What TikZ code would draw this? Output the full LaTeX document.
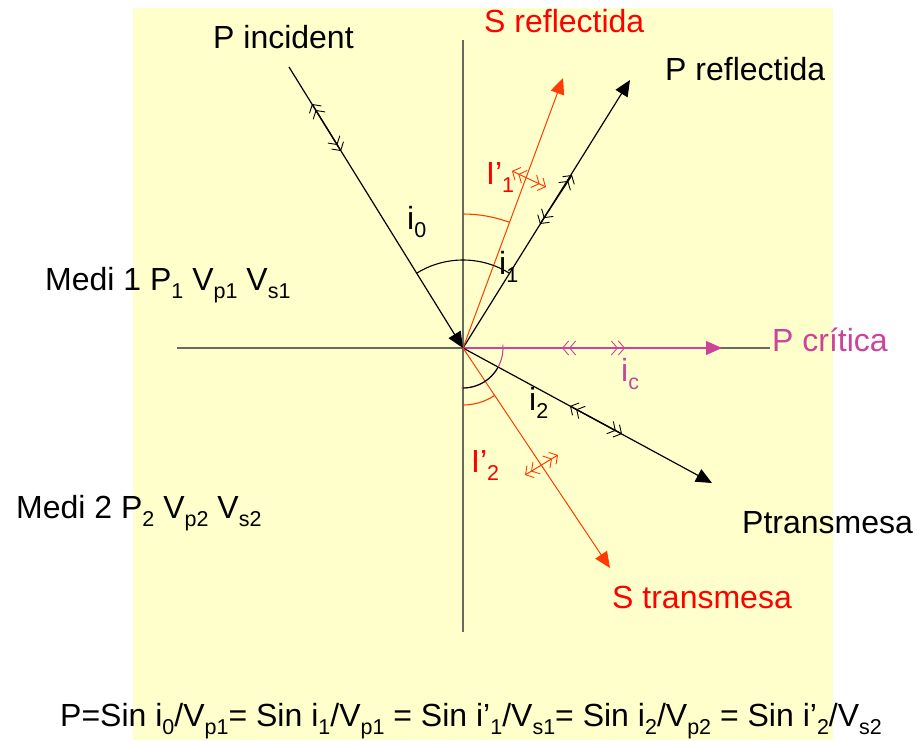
\documentclass[tikz,border=0pt]{standalone}
\usepackage{fontspec}
\setmainfont{Liberation Sans}
\usetikzlibrary{arrows.meta}
\definecolor{bgy}{RGB}{255,255,204}
\definecolor{axc}{RGB}{105,105,95}
\definecolor{orng}{RGB}{255,60,0}
\definecolor{mag}{RGB}{204,68,153}
\definecolor{lbred}{RGB}{255,0,0}
\newcommand\sbs[1]{\raisebox{-0.26em}{\fontsize{21.5}{24}\selectfont #1}}
\tikzset{
  lab/.style={font=\fontsize{32}{36}\selectfont, inner sep=0pt, anchor=base west},
  axis/.style={draw=axc, line width=1.8pt},
  ray/.style={line width=1.2pt, -{Triangle[length=16pt,width=14pt]}},
  ang/.style={line width=1.1pt},
  tickmk/.style={line width=1.3pt, >={Straight Barb[length=6pt,width=14pt,line width=0.9pt]}, <<->>},
}
\begin{document}
\begin{tikzpicture}[x=1pt,y=-1pt]
\useasboundingbox (0,0) rectangle (918,740);
\fill[bgy] (133,8) rectangle (833,740);

% axes
\coordinate (O) at (463,348);
\coordinate (Vt) at (463,40);
\coordinate (Vb) at (463,632);
\coordinate (Hl) at (177,348);
\coordinate (Hr) at (770,348);
\draw[axis] (Vt) -- (Vb);
\draw[axis] (Hl) -- (Hr);

% ray end points
\coordinate (Pi) at (289,67);
\coordinate (Pr) at (630,80);
\coordinate (Sr) at (563,78);
\coordinate (Pc) at (722,348);
\coordinate (Pt) at (712,483);
\coordinate (St) at (610,568);

% rays
\draw[ray, black] (Pi) -- (O);
\draw[ray, black] (O) -- (Pr);
\draw[ray, orng, line width=1pt] (O) -- (Sr);
\draw[ray, mag] (O) -- (Pc);
\draw[ray, black] (O) -- (Pt);
\draw[ray, orng, line width=1pt] (O) -- (St);

% angle arcs
\draw[ang, black] (O) ++(-121.8:88) arc[start angle=-121.8, end angle=-90, radius=88];
\draw[ang, black] (O) ++(-90:88) arc[start angle=-90, end angle=-58.1, radius=88];
\draw[ang, orng] (O) ++(-90:134) arc[start angle=-90, end angle=-69.7, radius=134];
\draw[ang, mag] (O) ++(-5:40) arc[start angle=-5, end angle=92, radius=40];
\draw[ang, black] (O) ++(90:40) arc[start angle=90, end angle=28.5, radius=40];
\draw[ang, orng] (O) ++(90:57) arc[start angle=90, end angle=56.3, radius=57];

% double-chevron marks
\coordinate (m1a) at (312,104); \coordinate (m1b) at (341,151);
\coordinate (m2a) at (540,224); \coordinate (m2b) at (572,175);
\coordinate (m3a) at (562,348); \coordinate (m3b) at (625,348);
\coordinate (m4a) at (570,406); \coordinate (m4b) at (622,434);
\coordinate (m5a) at (512,171); \coordinate (m5b) at (546,187);
\coordinate (m6a) at (525,475); \coordinate (m6b) at (558,455);
\draw[tickmk, black] (m1a) -- (m1b);
\draw[tickmk, black] (m2a) -- (m2b);
\draw[tickmk, mag, line width=1.2pt] (m3a) -- (m3b);
\draw[tickmk, black] (m4a) -- (m4b);
\draw[tickmk, orng, line width=1pt] (m5a) -- (m5b);
\draw[tickmk, orng, line width=1pt] (m6a) -- (m6b);

% labels
\node[lab] (lPi) at (213,48) {P incident};
\node[lab, text=lbred] (lSr) at (484,32) {S reflectida};
\node[lab] (lPr) at (665,80) {P reflectida};
\node[lab, text=lbred] (lI1) at (486,184) {I’\sbs{1}};
\node[lab] (li0) at (407,229) {i\sbs{0}};
\node[lab] (li1) at (499,274) {i\sbs{1}};
\node[lab] (lM1) at (45,290) {Medi 1 P\sbs{1} V\sbs{p1} V\sbs{s1}};
\node[lab, text=mag] (lPc) at (772,351) {P crítica};
\node[lab, text=mag] (lic) at (621,381) {i\sbs{c}};
\node[lab] (li2) at (529,410) {i\sbs{2}};
\node[lab, text=lbred] (lI2) at (471,472) {I’\sbs{2}};
\node[lab] (lM2) at (16,518) {Medi 2 P\sbs{2} V\sbs{p2} V\sbs{s2}};
\node[lab] (lPt) at (742,533) {Ptransmesa};
\node[lab, text=lbred] (lSt) at (612,608) {S transmesa};
\node[lab] (lF) at (60,726) {P=Sin i\sbs{0}/V\sbs{p1}= Sin i\sbs{1}/V\sbs{p1} = Sin i’\sbs{1}/V\sbs{s1}= Sin i\sbs{2}/V\sbs{p2} = Sin i’\sbs{2}/V\sbs{s2}};
\end{tikzpicture}
\end{document}
